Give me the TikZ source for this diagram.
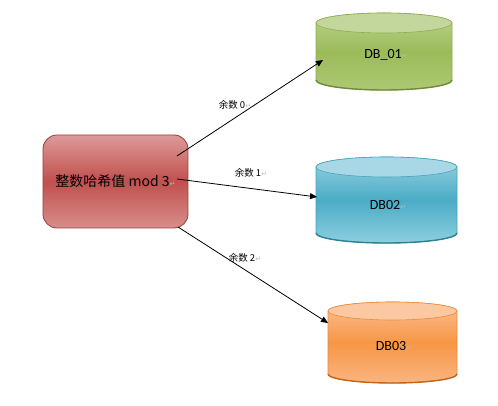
\documentclass[tikz,border=0pt]{standalone}
\usepackage{fontspec}
\setmainfont{Carlito}
\newfontfamily\cjk{Noto Sans CJK SC}
\newfontfamily\djv{DejaVu Sans}
\usetikzlibrary{arrows.meta,calc}
% green
\definecolor{gtop}{HTML}{BCD38E}\definecolor{gmid}{HTML}{9BBB59}\definecolor{gbot}{HTML}{ADC874}
\definecolor{gcap}{HTML}{C3D69B}\definecolor{gline}{HTML}{8FAD50}\definecolor{gedge}{HTML}{6F8A3A}
% blue
\definecolor{btop}{HTML}{98D2E2}\definecolor{bmid}{HTML}{4BACC6}\definecolor{bbot}{HTML}{8DCFE0}
\definecolor{bcap}{HTML}{A8D8E6}\definecolor{bline}{HTML}{46A3BD}\definecolor{bedge}{HTML}{2F7F95}
% orange
\definecolor{otop}{HTML}{FBBF93}\definecolor{omid}{HTML}{F79646}\definecolor{obot}{HTML}{FAB57F}
\definecolor{ocap}{HTML}{FBC8A2}\definecolor{oline}{HTML}{E98A3C}\definecolor{oedge}{HTML}{C0651A}
% red
\definecolor{rtop}{HTML}{DC9A99}\definecolor{rmid}{HTML}{C0504D}\definecolor{rbot}{HTML}{D88E8C}
\definecolor{rline}{HTML}{9B3B39}
\newcommand\retmark{{\djv\color{gray!55}\fontsize{7}{7}\selectfont ↵}}
\newcommand\dbcyl[6]{%
  \pgfmathsetmacro\rx{(#2-#1)/2}%
  \pgfmathsetmacro\cx{(#1+#2)/2}%
  \pgfmathsetmacro\yt{#3+#5}%
  \pgfmathsetmacro\yb{#4-#5}%
  \shade[top color=#6top, bottom color=#6bot, middle color=#6mid, draw=#6line, line width=0.6pt]
    (#1,\yt) -- (#1,\yb) arc[start angle=180,end angle=0,x radius=\rx,y radius=#5]
    -- (#2,\yt) arc[start angle=0,end angle=-180,x radius=\rx,y radius=#5] -- cycle;
  \draw[#6edge, line width=1.4pt] (#1,\yb) arc[start angle=180,end angle=0,x radius=\rx,y radius=#5];
  \filldraw[fill=#6cap, draw=#6line, line width=0.6pt] (\cx,\yt) ellipse[x radius=\rx, y radius=#5];
}
\tikzset{
  hashbox/.style={rectangle, rounded corners=14pt, draw=rline, line width=0.8pt,
    top color=rtop, bottom color=rbot, middle color=rmid,
    minimum width=145pt, minimum height=93pt, inner sep=0pt},
  dbtext/.style={inner sep=0pt, font=\fontsize{14}{14}\selectfont},
  lbl/.style={inner sep=0pt, font=\cjk\fontsize{9.5}{9.5}\selectfont},
  arr/.style={black, line width=0.8pt, -{Triangle[length=7pt,width=6pt]}}
}
\begin{document}
\begin{tikzpicture}[x=1pt,y=-1pt]
\useasboundingbox (0,0) rectangle (498,406);
\fill[white] (0,0) rectangle (498,406);
% cylinders
\dbcyl{316}{452}{13}{90}{10}{g}
\dbcyl{316}{457}{157}{243}{10}{b}
\dbcyl{328}{457}{302}{383}{9}{o}
% nodes
\node[hashbox] (hash) at (115.5,181.5) {{\cjk\fontsize{14}{14}\selectfont 整数哈希值 mod 3}\retmark};
\node[dbtext] (db1) at (386,55) {DB\_01\retmark};
\node[dbtext] (db2) at (388,205) {DB02\retmark};
\node[dbtext] (db3) at (394,346) {DB03\retmark};
% connectors
\draw[arr] ($(hash.center)+(61.5,-25.5)$) -- ($(db1.center)+(-63,5)$);
\draw[arr] ($(hash.center)+(61.5,-2.5)$) -- ($(db2.center)+(-71,-8)$);
\draw[arr] ($(hash.center)+(62.5,45.5)$) -- ($(db3.center)+(-66,-23)$);
% labels
\node[lbl] (l0) at (235,105) {余数 0\retmark};
\node[lbl] (l1) at (251,173) {余数 1\retmark};
\node[lbl] (l2) at (245,258) {余数 2\retmark};
\end{tikzpicture}
\end{document}
